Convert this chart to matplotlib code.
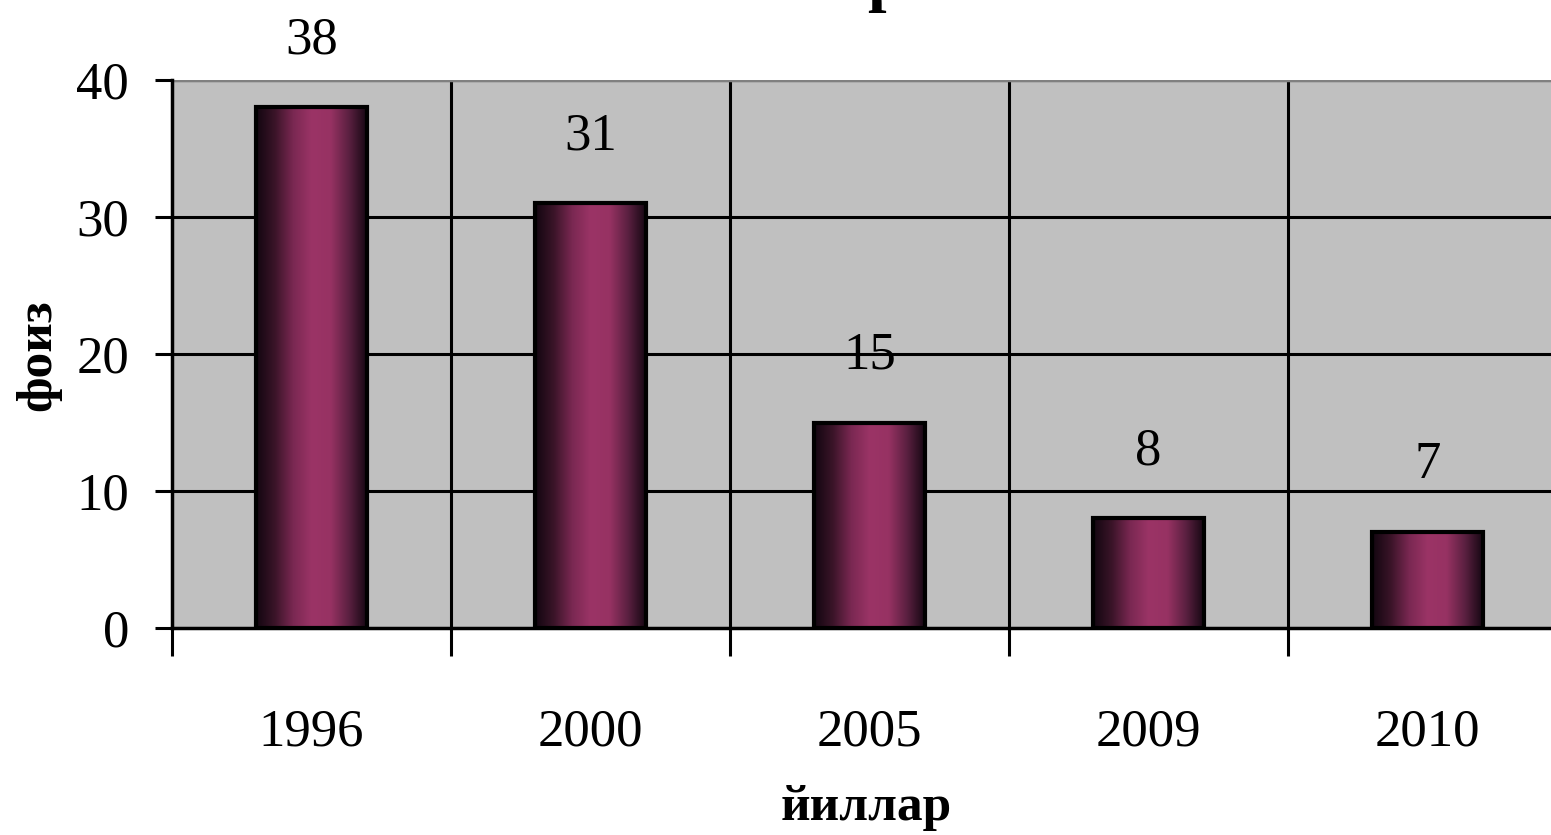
import numpy as np
import matplotlib
matplotlib.use("Agg")
import matplotlib.pyplot as plt
from matplotlib.colors import LinearSegmentedColormap

years = ["1996", "2000", "2005", "2009", "2010"]
values = [38, 31, 15, 8, 7]
y_ticks = [0, 10, 20, 30, 40]
x_title = "йиллар"
y_title = "фоиз"

plt.rcParams['font.family'] = ['Liberation Serif', 'DejaVu Serif']

W, H = 1551, 835
fig = plt.figure(figsize=(W / 100, H / 100), dpi=100)
left, right = 172 / W, 1567 / W
bottom, top = 1 - 628 / H, 1 - 80 / H
ax = fig.add_axes([left, bottom, right - left, top - bottom])
ax.set_facecolor("#c0c0c0")

n = len(years)
x = np.arange(n)
ax.set_xlim(-0.5, n - 0.5)
ax.set_ylim(0, 40)

# grid
for yv in y_ticks[1:]:
    ax.axhline(yv, color="black", lw=2.2, zorder=1)
for xv in np.arange(n) + 0.5:
    ax.axvline(xv, color="black", lw=2.2, zorder=1)

cmap = LinearSegmentedColormap.from_list(
    "bar", ["#120610", "#3a1428", "#7a2852", "#9b3466", "#973263", "#5a2040", "#120610"])
grad = np.linspace(0, 1, 256).reshape(1, -1)
bw = 0.4
bars = ax.bar(x, values, width=bw, color="none", edgecolor="black", lw=3, zorder=3)
for b in bars:
    x0, w, h = b.get_x(), b.get_width(), b.get_height()
    im = ax.imshow(grad, cmap=cmap, extent=[x0, x0 + w, 0, h], aspect="auto", zorder=2)
    im.set_clip_path(b)

for xi, v in zip(x, values):
    ax.annotate(str(v), (xi, v), xytext=(0, 48), textcoords="offset points",
                ha="center", va="center", fontsize=38, zorder=4, annotation_clip=False)

ax.set_yticks(y_ticks)
ax.set_yticklabels([str(t) for t in y_ticks], fontsize=38)
ax.set_xticks(np.concatenate([[-0.5], np.arange(n) + 0.5]))
ax.set_xticklabels([])
ax.tick_params(axis="y", direction="out", length=12, width=2.2, pad=19)
ax.tick_params(axis="x", direction="out", length=20, width=2.2)
for xi, yr in zip(x, years):
    ax.text(xi, -0.19, yr, transform=ax.get_xaxis_transform(), ha="center", va="center",
            fontsize=38)

for s in ["top", "right"]:
    ax.spines[s].set_visible(False)
ax.spines["left"].set_linewidth(2.5)
ax.spines["bottom"].set_linewidth(2.5)
ax.axhline(40, color="#808080", lw=2.5, zorder=1)

fig.text(866 / W, 1 - 808 / H, x_title, ha="center", va="center", fontsize=37, fontweight="bold")
fig.text(38 / W, 1 - 355 / H, y_title, ha="center", va="center", rotation=90,
         fontsize=37, fontweight="bold")
# title, mostly cut off at the top of the image (only its descender shows)
fig.text(886 / W, 1 + 1 / H, "р", ha="center", va="baseline", fontsize=48, fontweight="bold")

fig.savefig("out.png", dpi=100)
